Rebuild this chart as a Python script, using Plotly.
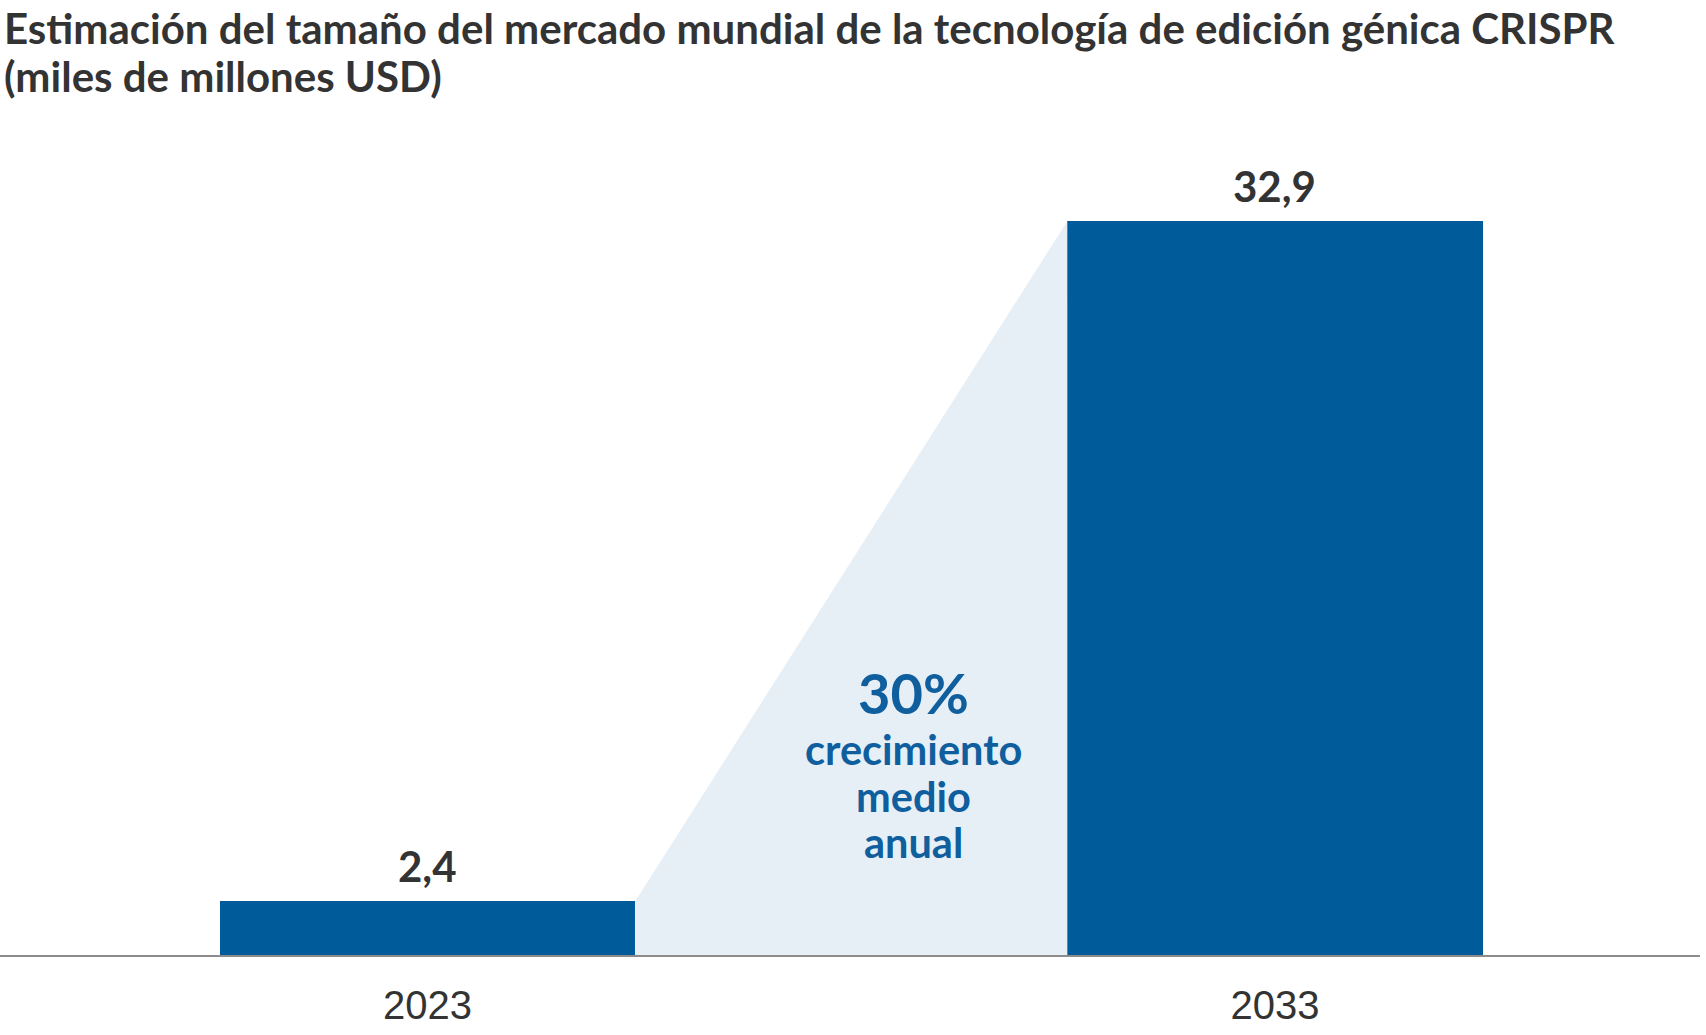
import plotly.graph_objects as go

years = ["2023", "2033"]
values = [2.4, 32.9]
value_labels = ["2,4", "32,9"]
cagr_label = "30%"
cagr_lines = ["crecimiento", "medio", "anual"]
title_lines = ["Estimación del tamaño del mercado mundial de la tecnología de edición génica CRISPR",
               "(miles de millones USD)"]

BAR = "#005b9b"
SHADE = "#e6eef6"
DARK = "#333333"
TXTBLUE = "#0f5e9e"
BW = 0.49
FONT = "Lato"
W = "bold"

xpos = list(range(len(years)))

fig = go.Figure()

# shaded growth wedge between bars
fig.add_trace(go.Scatter(
    x=[xpos[0] + BW / 2, xpos[1] - BW / 2, xpos[1] - BW / 2, xpos[0] + BW / 2],
    y=[values[0], values[1], 0, 0],
    fill="toself", fillcolor=SHADE, mode="lines", line=dict(width=0),
    hoverinfo="skip", showlegend=False,
))

fig.add_trace(go.Bar(
    x=xpos, y=values, width=BW, marker=dict(color=BAR, line=dict(width=0)),
    showlegend=False, hoverinfo="skip",
))

for xp, v, lab in zip(xpos, values, value_labels):
    fig.add_annotation(x=xp, y=v, xref="x", yref="y", text=lab, showarrow=False,
                       yanchor="bottom", xanchor="center", yshift=8,
                       font=dict(family=FONT, size=42, color=DARK, weight=W))

# CAGR callout
fig.add_annotation(x=0.573, y=11.75, xref="x", yref="y", text=cagr_label,
                   showarrow=False, yanchor="middle", xanchor="center",
                   font=dict(family=FONT, size=56, color=TXTBLUE, weight=W))
for i, line in enumerate(cagr_lines):
    fig.add_annotation(x=0.573, y=9.25 - 2.1 * i, xref="x", yref="y", text=line,
                       showarrow=False, yanchor="middle", xanchor="center",
                       font=dict(family=FONT, size=41.5, color=TXTBLUE, weight=W))

for i, line in enumerate(title_lines):
    fig.add_annotation(x=0, y=1, xref="paper", yref="paper", yshift=151 - 48 * i,
                       xshift=2, text=line, showarrow=False, xanchor="left",
                       yanchor="top", align="left",
                       font=dict(family=FONT, size=42, color=DARK, weight=W))

fig.update_layout(
    width=1706, height=1035,
    margin=dict(l=0, r=6, t=152, b=80),
    plot_bgcolor="white", paper_bgcolor="white",
    bargap=0,
    xaxis=dict(range=[-0.5044, 1.5015], tickvals=xpos, ticktext=years,
               showgrid=False, zeroline=False, showline=True,
               linecolor="#8c8c8c", linewidth=2, ticks="",
               ticklabelstandoff=14,
               tickfont=dict(family="Liberation Sans", size=40, color=DARK)),
    yaxis=dict(range=[0, 36], visible=False, showgrid=False, zeroline=False),
)

fig.write_html("out.html", post_script="document.body.style.margin='0';",
               config={"displayModeBar": False})
